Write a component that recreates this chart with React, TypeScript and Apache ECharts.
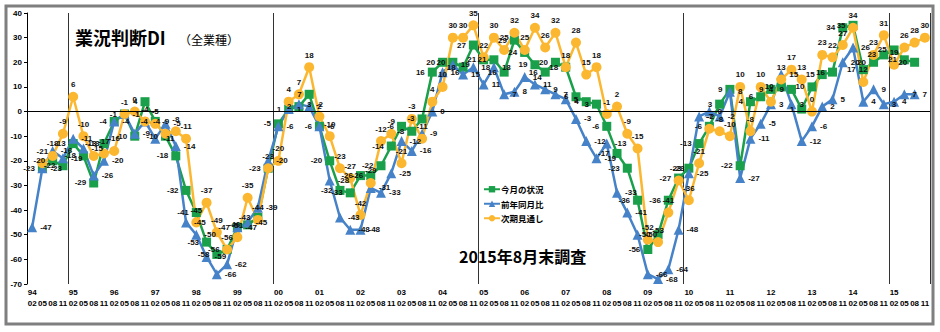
import React, { useEffect, useRef } from "react";
import * as echarts from "echarts";

const years = ["94","95","96","97","98","99","00","01","02","03","04","05","06","07","08","09","10","11","12","13","14","15"];
const months = ["02","05","08","11"];
const categories = years.flatMap((y) => months.map((m) => `${y}/${m}`));

// 今月の状況
const current = [
  null, -23, -20, -22, -13, -18, -29, -13,
  -4, -1, -10, 4, -4, -10, -18, -32,
  -41, -53, -58, -56, -47, -46, -43, -23,
  -5, 1, 2, 7, -6, -20, -32, -33,
  -26, -26, -22, -14, -6, -8, -3, 16,
  20, 20, 18, 27, 21, 21, 16, 29,
  24, 19, 16, 20, 18, 6, 4, 3,
  -6, -17, -23, -36, -56, -50, -36, -27,
  -23, -13, -6, 3, 9, -22, 4, 6,
  9, 10, 9, 1, 10, 15, 16, 34,
  35, 17, 20, 23, 25, 21, 20, null,
];
// 前年同月比
const yoy = [
  -47, -23, -16, -19, -11, -15, -26, -20,
  -4, -1, -9, -4, -11, -5, -14, -45,
  -50, -59, -66, -62, -47, -45, -39, -20,
  -6, 1, 3, 2, -6, -28, -43, -48,
  -48, -31, -33, -25, -12, -16, -9, 0,
  16, 19, 15, 18, 11, 18, 7, 8,
  14, 11, 9, 7, 5, -3, -12, -19,
  -13, -33, -41, -50, -66, -68, -64, -48,
  -25, -2, 0, -2, 8, -27, -11, -5,
  3, 15, 3, -12, -6, 2, 5, 20,
  26, 4, 9, 3, 4, 7, 7, null,
];
// 次期見通し
const outlook = [
  null, -21, -18, -9, 6, -10, -18, -17,
  -16, -1, 0, -4, -5, -9, -8, -11,
  -45, -37, -49, -56, -51, -35, -44, -23,
  -20, 4, 7, 18, -2, -10, -23, -27,
  -42, -29, -12, -9, -21, -3, -11, 4,
  10, 30, 30, 35, 22, 30, 25, 32,
  25, 34, 26, 32, 18, 28, 15, 18,
  -1, 2, -9, -15, -52, -53, -41, -28,
  -36, -21, -7, -8, -10, 10, -8, 10,
  4, 13, 17, 13, 0, 23, 22, 27,
  34, 12, 23, 31, 19, 26, 28, 30,
];

const seriesNames = ["今月の状況", "前年同月比", "次期見通し"];
const GREEN = "#1aa04b";
const BLUE = "#4682c8";
const ORANGE = "#fcb731";

const labelFont = { fontSize: 8, fontWeight: "bold" as const, fontFamily: "Liberation Sans", color: "#111" };

export default function App() {
  const ref = useRef<HTMLDivElement>(null);
  useEffect(() => {
    if (!ref.current) return;
    const chart = echarts.init(ref.current, undefined, { renderer: "svg" });
    const mkSeries = (name: string, data: (number | null)[], color: string, symbol: string, size: number, pos: string, extra: any = {}) => ({
      name,
      type: "line",
      data,
      symbol,
      symbolSize: size,
      lineStyle: { width: 2.5, color },
      itemStyle: { color },
      label: { show: true, position: pos, distance: 3, ...labelFont },
      ...extra,
    });
    chart.setOption({
      animation: false,
      backgroundColor: "#fff",
      grid: { left: 27, top: 13, width: 903, height: 271, containLabel: false },
      legend: {
        orient: "vertical",
        left: 478,
        top: 180,
        itemGap: 6,
        itemWidth: 16,
        itemHeight: 8,
        data: seriesNames,
        textStyle: { fontSize: 8.5, fontWeight: "bold", fontFamily: "Noto Sans CJK JP", color: "#000", padding: [0, 0, 0, -4] },
      },
      xAxis: {
        type: "category",
        data: categories,
        boundaryGap: true,
        axisLine: { show: false },
        axisTick: { show: true, length: 6, interval: (i: number) => i % 20 === 4, lineStyle: { color: "#333" } },
        splitLine: { show: true, interval: (i: number) => i % 20 === 4, lineStyle: { color: "#333", width: 1 } },
        axisLabel: {
          interval: 0,
          margin: 3,
          fontSize: 8,
          lineHeight: 11,
          fontWeight: "bold",
          fontFamily: "Liberation Sans",
          color: "#000",
          formatter: (v: string, i: number) => {
            const [y, m] = v.split("/");
            return i % 4 === 0 ? `${y}\n${m}` : `\n${m}`;
          },
        },
      },
      yAxis: {
        type: "value",
        min: -70,
        max: 40,
        interval: 10,
        axisLine: { show: true, lineStyle: { color: "#000", width: 1 } },
        axisTick: { show: true, length: 3, lineStyle: { color: "#000" } },
        splitLine: { show: false },
        axisLabel: { margin: 5, ...labelFont, color: "#000" },
      },
      series: [
        mkSeries(seriesNames[0], current, GREEN, "rect", 9, "left", {
          markLine: {
            silent: true,
            symbol: "none",
            label: { show: false },
            lineStyle: { color: "#000", type: "solid", width: 1 },
            data: [{ yAxis: 0 }],
          },
        }),
        mkSeries(seriesNames[1], yoy, BLUE, "triangle", 10, "right"),
        mkSeries(seriesNames[2], outlook, ORANGE, "circle", 10, "top"),
      ],
      graphic: [
        { type: "rect", silent: true, z: -10, shape: { x: 6, y: 6, width: 927, height: 318 }, style: { fill: "none", stroke: "#7f7f7f", lineWidth: 3 } },
        { type: "text", x: 75, y: 37, style: { text: "業況判断DI", font: 'bold 18px "Noto Sans CJK JP"', fill: "#000", verticalAlign: "middle" } },
        { type: "text", x: 179, y: 39, style: { text: "（全業種）", font: '12px "Noto Sans CJK JP"', fill: "#000", verticalAlign: "middle" } },
        { type: "text", x: 459, y: 256, style: { text: "2015年8月末調査", font: 'bold 16px "Noto Sans CJK JP"', fill: "#000", verticalAlign: "middle" } },
      ],
    });
    return () => chart.dispose();
  }, []);
  return <div ref={ref} style={{ position: "fixed", left: 0, top: 0, width: 940, height: 332, background: "#fff" }} />;
}
